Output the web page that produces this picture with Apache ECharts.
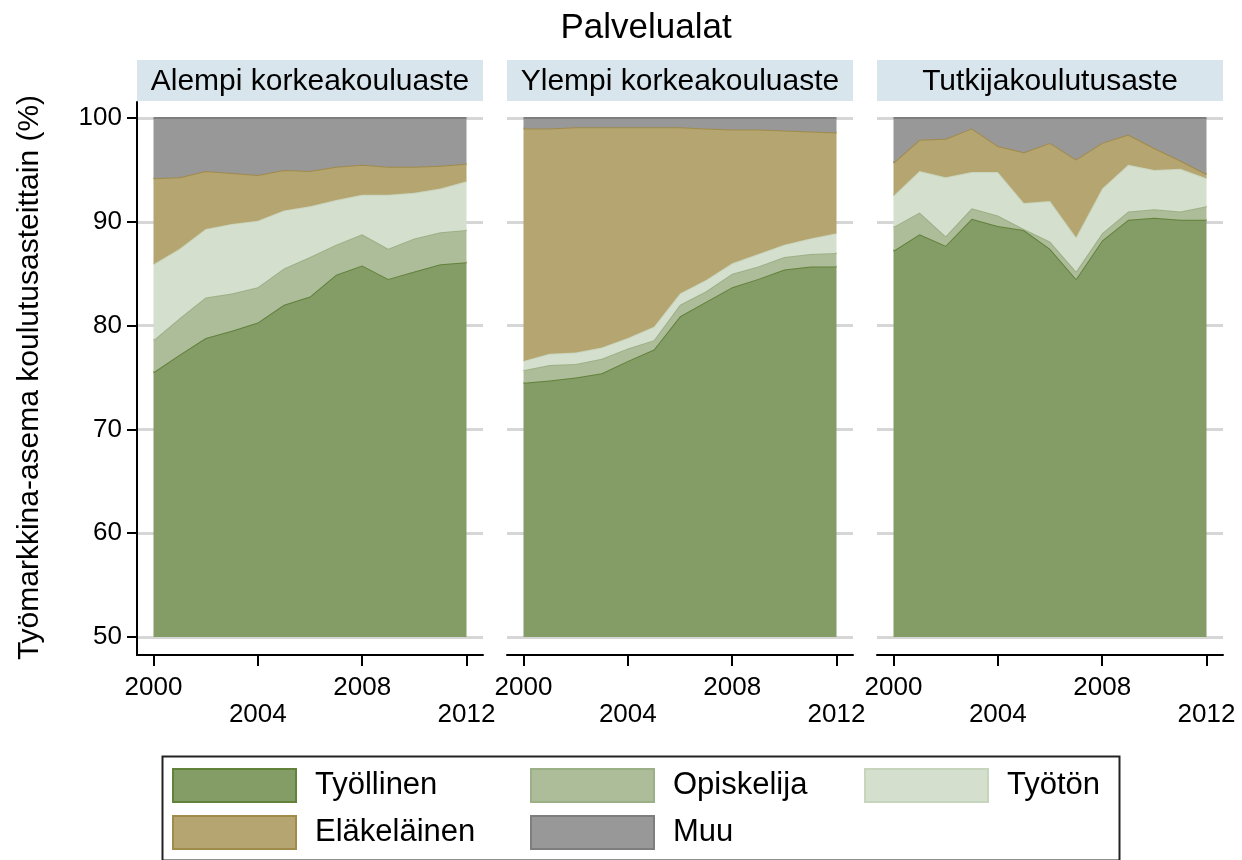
<!DOCTYPE html>
<html>
<head>
<meta charset="utf-8">
<title>Palvelualat</title>
<script src="https://cdn.jsdelivr.net/npm/echarts@6/dist/echarts.min.js"></script>
<style>
  html, body { margin: 0; padding: 0; background: #fff; }
  #chart { width: 1242px; height: 860px; }
</style>
</head>
<body>
<div id="chart"></div>
<script>
// data, shares in % (one row per panel)
const years = ['2000', '2001', '2002', '2003', '2004', '2005', '2006', '2007', '2008', '2009', '2010', '2011', '2012'];
const panelNames = ['Alempi korkeakouluaste', 'Ylempi korkeakouluaste', 'Tutkijakoulutusaste'];
const categories = ['Työllinen', 'Opiskelija', 'Työtön', 'Eläkeläinen', 'Muu'];
const yTicks = [50, 60, 70, 80, 90, 100];

const tyollinen = [
  [75.5, 77.2, 78.8, 79.5, 80.3, 82.0, 82.8, 84.9, 85.8, 84.5, 85.2, 85.9, 86.1],
  [74.5, 74.7, 75.0, 75.4, 76.6, 77.7, 80.9, 82.3, 83.7, 84.5, 85.4, 85.7, 85.7],
  [87.2, 88.8, 87.7, 90.3, 89.6, 89.2, 87.4, 84.5, 88.2, 90.2, 90.4, 90.2, 90.2]
];
const opiskelija = [
  [3.1, 3.5, 3.9, 3.6, 3.4, 3.5, 3.8, 2.9, 3.0, 2.9, 3.2, 3.1, 3.1],
  [1.2, 1.5, 1.3, 1.4, 1.2, 0.9, 1.1, 1.0, 1.3, 1.2, 1.2, 1.2, 1.3],
  [2.3, 2.1, 0.9, 1.0, 1.0, 0.1, 0.7, 0.7, 0.7, 0.8, 0.8, 0.8, 1.3]
];
const tyoton = [
  [7.3, 6.7, 6.6, 6.7, 6.4, 5.6, 4.9, 4.3, 3.8, 5.2, 4.4, 4.2, 4.7],
  [0.9, 1.1, 1.1, 1.1, 1.0, 1.3, 1.1, 1.1, 1.0, 1.2, 1.2, 1.5, 1.9],
  [3.0, 4.0, 5.7, 3.5, 4.2, 2.5, 3.9, 3.3, 4.3, 4.5, 3.8, 4.1, 2.7]
];
const elakelainen = [
  [8.3, 6.9, 5.6, 4.9, 4.4, 3.9, 3.4, 3.2, 2.9, 2.7, 2.5, 2.2, 1.7],
  [22.4, 21.7, 21.7, 21.2, 20.3, 19.2, 16.0, 14.6, 12.9, 12.0, 11.0, 10.3, 9.7],
  [3.2, 3.0, 3.7, 4.2, 2.5, 4.9, 5.6, 7.5, 4.4, 2.9, 2.1, 0.8, 0.4]
];
const muu = [
  [5.8, 5.7, 5.1, 5.3, 5.5, 5.0, 5.1, 4.7, 4.5, 4.7, 4.7, 4.6, 4.4],
  [1.0, 1.0, 0.9, 0.9, 0.9, 0.9, 0.9, 1.0, 1.1, 1.1, 1.2, 1.3, 1.4],
  [4.3, 2.1, 2.0, 1.0, 2.7, 3.3, 2.4, 4.0, 2.4, 1.6, 2.9, 4.1, 5.4]
];

const fills = ['#849c66', '#adbd9a', '#d5dfcd', '#b5a570', '#989898'];
const edges = ['#62813b', '#9cb087', '#c8d5bd', '#a18b4a', '#7e7e7e'];
const font = '"Liberation Sans", Arial, sans-serif';

const chart = echarts.init(document.getElementById('chart'));

const panelLeft = [137, 507, 877];
const panelW = 346;
const inset = 16.5;
const plotTop = 118;
const plotH = 519;

const grid = [], xAxis = [], yAxis = [], series = [], graphic = [];
const valuesByCat = [tyollinen, opiskelija, tyoton, elakelainen, muu];

panelLeft.forEach((L, p) => {
  // frame (axis lines), grid lines, data area
  grid.push({ left: L, top: 102, width: panelW, height: 553 });
  grid.push({ left: L, top: plotTop, width: panelW, height: plotH });
  grid.push({ left: L + inset, top: plotTop, width: panelW - 2 * inset, height: plotH });
  const g = p * 3;

  xAxis.push({
    gridIndex: g, type: 'value', min: 0, max: 1,
    axisLine: { show: true, lineStyle: { color: '#000', width: 2 } },
    axisTick: { show: false }, axisLabel: { show: false }, splitLine: { show: false }
  });
  xAxis.push({ gridIndex: g + 1, type: 'value', min: 0, max: 1, show: false });
  xAxis.push({
    gridIndex: g + 2, type: 'category', data: years, boundaryGap: false, offset: 18,
    axisLine: { show: false },
    axisTick: { show: true, interval: 3, length: 11, lineStyle: { color: '#000', width: 2 } },
    axisLabel: {
      interval: 3, margin: 19, color: '#000', fontFamily: font, fontSize: 26, lineHeight: 27,
      formatter: (v, i) => (i % 8 === 4 ? '\n' + v : v)
    },
    splitLine: { show: false }
  });

  yAxis.push({
    gridIndex: g, type: 'value', min: 0, max: 1,
    axisLine: { show: p === 0, lineStyle: { color: '#000', width: 2 } },
    axisTick: { show: false }, axisLabel: { show: false }, splitLine: { show: false }
  });
  yAxis.push({
    gridIndex: g + 1, type: 'value', min: yTicks[0], max: yTicks[yTicks.length - 1], interval: 10,
    axisLine: { show: false }, axisTick: { show: false }, axisLabel: { show: false },
    splitLine: { show: true, lineStyle: { color: '#d6d6d6', width: 3 } }
  });
  yAxis.push({
    gridIndex: g + 2, type: 'value', min: yTicks[0], max: yTicks[yTicks.length - 1], interval: 10,
    offset: inset,
    name: p === 0 ? 'Työmarkkina-asema koulutusasteittain (%)' : '',
    nameLocation: 'middle', nameGap: 92,
    nameTextStyle: { color: '#000', fontFamily: font, fontSize: 30 },
    axisLine: { show: false },
    axisTick: { show: p === 0, length: 10, lineStyle: { color: '#000', width: 2 } },
    axisLabel: { show: p === 0, margin: 15, color: '#000', fontFamily: font, fontSize: 26 },
    splitLine: { show: false }
  });

  categories.forEach((name, c) => {
    series.push({
      name: name, type: 'line', stack: 'panel' + p,
      xAxisIndex: g + 2, yAxisIndex: g + 2,
      data: valuesByCat[c][p],
      showSymbol: false, symbol: 'none',
      lineStyle: { color: edges[c], width: 2 },
      itemStyle: { color: fills[c] },
      areaStyle: { color: fills[c], opacity: 1 },
      z: 2 + c
    });
  });

  // strip header
  graphic.push({
    type: 'rect', left: L, top: 60, silent: true,
    shape: { width: panelW, height: 41 },
    style: { fill: '#d9e5ec' }
  });
  graphic.push({
    type: 'text', silent: true, x: L + panelW / 2, y: 82,
    style: {
      text: panelNames[p], fill: '#000', font: '30px ' + font,
      align: 'center', verticalAlign: 'middle'
    }
  });
});

// legend frame
graphic.push({
  type: 'rect', silent: true, left: 160, top: 754,
  shape: { width: 957, height: 104 },
  style: { fill: 'none', stroke: '#222', lineWidth: 2 }
});

const legendItem = (name) => {
  const c = categories.indexOf(name);
  return { name: name, itemStyle: { color: fills[c], borderColor: edges[c], borderWidth: 2 } };
};
const legendBase = {
  orient: 'vertical', top: 768, icon: 'rect', itemWidth: 123, itemHeight: 33,
  itemGap: 12, padding: 0, selectedMode: false,
  textStyle: { color: '#000', fontFamily: font, fontSize: 31, padding: [0, 0, 0, 14] }
};

chart.setOption({
  animation: false,
  backgroundColor: '#fff',
  title: {
    text: 'Palvelualat', left: 641, top: 6, textAlign: 'center',
    textStyle: { color: '#000', fontFamily: font, fontSize: 35, fontWeight: 'normal' }
  },
  legend: [
    Object.assign({}, legendBase, { left: 172, data: [legendItem('Työllinen'), legendItem('Eläkeläinen')] }),
    Object.assign({}, legendBase, { left: 530, data: [legendItem('Opiskelija'), legendItem('Muu')] }),
    Object.assign({}, legendBase, { left: 864, data: [legendItem('Työtön')] })
  ],
  grid: grid,
  xAxis: xAxis,
  yAxis: yAxis,
  series: series,
  graphic: graphic
});
</script>
</body>
</html>
